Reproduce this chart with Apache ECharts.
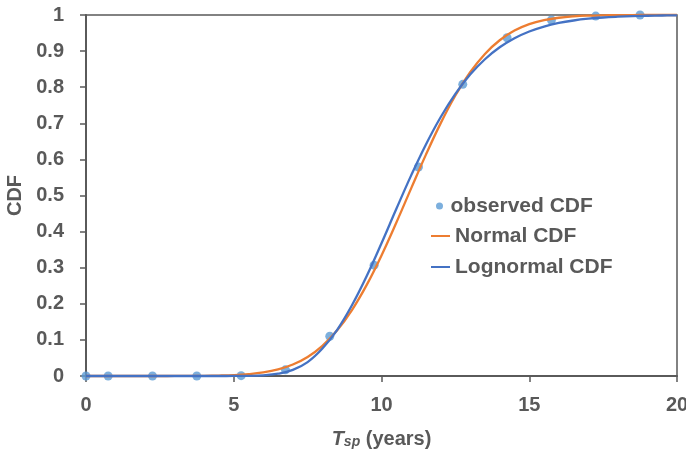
<!DOCTYPE html>
<html>
<head>
<meta charset="utf-8">
<script src="https://cdn.jsdelivr.net/npm/echarts@6/dist/echarts.min.js"></script>
<style>
  html, body { margin: 0; padding: 0; background: #ffffff; }
  #chart { width: 686px; height: 452px; }
</style>
</head>
<body>
<div id="chart"></div>
<script>
// Observed spacing times (years) and their empirical CDF
const obsX = [0, 0.75, 2.25, 3.75, 5.25, 6.75, 8.25, 9.75, 11.25, 12.75, 14.25, 15.75, 17.25, 18.75];
const obsY = [0, 0, 0, 0, 0.001, 0.017, 0.11, 0.307, 0.579, 0.808, 0.937, 0.986, 0.997, 1.0];

// Fitted curves, sampled every half year from 0 to 20
const curveX = [0, 0.5, 1, 1.5, 2, 2.5, 3, 3.5, 4, 4.5, 5, 5.5, 6, 6.5, 7, 7.5, 8, 8.5, 9, 9.5,
  10, 10.5, 11, 11.5, 12, 12.5, 13, 13.5, 14, 14.5, 15, 15.5, 16, 16.5, 17, 17.5, 18, 18.5, 19, 19.5, 20];
const normalY = [0, 0, 0, 0, 0, 0, 0.0001, 0.0002, 0.0005, 0.0012, 0.0025, 0.0051, 0.0098, 0.0181, 0.0317, 0.0527, 0.0836, 0.1265, 0.1828, 0.2525,
  0.3341, 0.4245, 0.519, 0.6125, 0.6998, 0.7769, 0.8413, 0.8922, 0.930, 0.9568, 0.9746, 0.9857, 0.9924, 0.9962, 0.9982, 0.9992, 0.9997, 0.9999, 1, 1, 1];
const lognormalY = [0, 0, 0, 0, 0, 0, 0, 0, 0, 0, 0.0001, 0.0004, 0.0019, 0.0064, 0.017, 0.0385, 0.076, 0.128, 0.196, 0.277,
  0.3677, 0.4624, 0.555, 0.6408, 0.7168, 0.7816, 0.8349, 0.8775, 0.9105, 0.9357, 0.9544, 0.968, 0.9779, 0.9848, 0.9897, 0.9931, 0.9953, 0.9969, 0.9979, 0.9986, 0.9991];

const xTickLabels = ['0', '5', '10', '15', '20'];
const yTickLabels = ['0', '0.1', '0.2', '0.3', '0.4', '0.5', '0.6', '0.7', '0.8', '0.9', '1'];

const pair = (xs, ys) => xs.map((x, i) => [x, ys[i]]);

const textGrey = '#595959';
const frameGrey = '#5a5a5a';
const fontFamily = '"Liberation Sans", Arial, sans-serif';

const chart = echarts.init(document.getElementById('chart'), null, { renderer: 'canvas' });

const legendText = { color: textGrey, fontSize: 21, fontWeight: 'bold', fontFamily: fontFamily, lineHeight: 24 };

chart.setOption({
  backgroundColor: '#ffffff',
  animation: false,
  grid: {
    left: 86, right: 9, top: 15, bottom: 76,
    containLabel: false, outerBoundsMode: 'none',
    show: true, borderColor: frameGrey, borderWidth: 1.5, backgroundColor: 'transparent'
  },
  xAxis: {
    type: 'value', min: 0, max: 20, interval: 5,
    axisLine: { show: true, onZero: false, lineStyle: { color: frameGrey, width: 2 } },
    axisTick: { show: true, inside: false, length: 6, lineStyle: { color: frameGrey, width: 1.5 } },
    splitLine: { show: false },
    axisLabel: {
      margin: 19, color: textGrey, fontSize: 20, fontWeight: 'bold', fontFamily: fontFamily,
      hideOverlap: false,
      formatter: v => xTickLabels[Math.round(v / 5)]
    },
    name: '{it|T}{sub|sp}{n| (years)}',
    nameLocation: 'middle',
    nameGap: 51,
    nameTextStyle: {
      rich: {
        it: { fontSize: 20, fontWeight: 'bold', fontStyle: 'italic', color: textGrey, fontFamily: fontFamily, verticalAlign: 'bottom' },
        sub: { fontSize: 14, fontWeight: 'bold', fontStyle: 'italic', color: textGrey, fontFamily: fontFamily, padding: [8, 0, 0, 0], verticalAlign: 'bottom' },
        n: { fontSize: 20, fontWeight: 'bold', color: textGrey, fontFamily: fontFamily, verticalAlign: 'bottom' }
      }
    }
  },
  yAxis: {
    type: 'value', min: 0, max: 1, interval: 0.1,
    axisLine: { show: true, onZero: false, lineStyle: { color: frameGrey, width: 2 } },
    axisTick: { show: true, inside: false, length: 6, lineStyle: { color: frameGrey, width: 1.5 } },
    splitLine: { show: false },
    axisLabel: {
      margin: 22, color: textGrey, fontSize: 20, fontWeight: 'bold', fontFamily: fontFamily,
      formatter: v => yTickLabels[Math.round(v * 10)]
    },
    name: 'CDF',
    nameLocation: 'middle',
    nameGap: 59,
    nameRotate: 90,
    nameTextStyle: { color: textGrey, fontSize: 20, fontWeight: 'bold', fontFamily: fontFamily }
  },
  legend: [
    {
      data: ['observed CDF'], left: 436, top: 194, padding: 0,
      icon: 'circle', itemWidth: 12, itemHeight: 7,
      textStyle: legendText, selectedMode: false
    },
    {
      data: ['Normal CDF', 'Lognormal CDF'], orient: 'vertical', left: 431, top: 224, padding: 0,
      icon: 'rect', itemWidth: 19, itemHeight: 2, itemGap: 7,
      textStyle: legendText, selectedMode: false
    }
  ],
  series: [
    {
      name: 'observed CDF', type: 'scatter', data: pair(obsX, obsY),
      symbol: 'circle', symbolSize: 9, clip: false,
      itemStyle: { color: '#5b9bd5' }, z: 2
    },
    {
      name: 'Normal CDF', type: 'line', data: pair(curveX, normalY),
      showSymbol: false, symbol: 'none', smooth: 0.4, clip: false,
      color: '#ed7d31', itemStyle: { color: '#ed7d31' }, lineStyle: { color: '#ed7d31', width: 2.3 }, z: 3
    },
    {
      name: 'Lognormal CDF', type: 'line', data: pair(curveX, lognormalY),
      showSymbol: false, symbol: 'none', smooth: 0.4, clip: false,
      color: '#4472c4', itemStyle: { color: '#4472c4' }, lineStyle: { color: '#4472c4', width: 2.3 }, z: 4
    }
  ]
});
</script>
</body>
</html>
